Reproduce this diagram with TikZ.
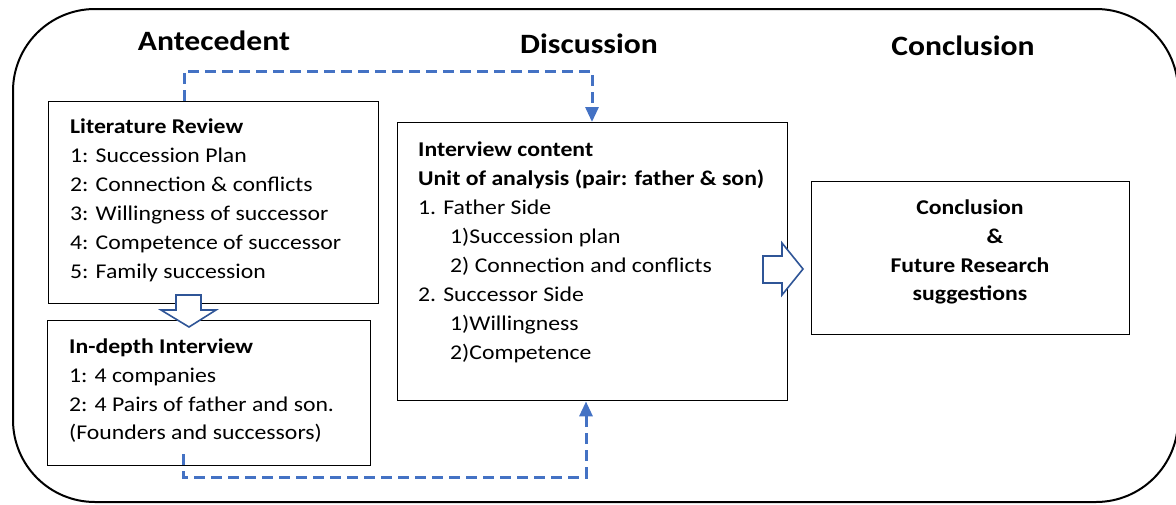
\documentclass[tikz,border=0pt]{standalone}
\usepackage{fontspec}
\setmainfont{Carlito}[FakeStretch=1.13]
\usetikzlibrary{arrows.meta}
\definecolor{dashblue}{HTML}{4472C4}
\definecolor{arrowblue}{HTML}{2F5597}
\tikzset{
  box/.style={draw, line width=1.4pt, inner sep=0pt, anchor=north west},
  txt/.style={anchor=base west, inner sep=0pt, font=\fontsize{21}{29}\selectfont},
  ctxt/.style={anchor=base, inner sep=0pt, font=\fontsize{21}{29}\selectfont\bfseries},
  head/.style={anchor=base, inner sep=0pt, font=\fontsize{28}{34}\selectfont\bfseries},
  conn/.style={draw=dashblue, line width=3pt, dash pattern=on 11pt off 6pt, -{Triangle[length=15pt,width=13pt]}},
  hollow/.style={draw=arrowblue, line width=1.6pt, fill=white, line join=miter},
}
\begin{document}
\begin{tikzpicture}[x=1pt,y=-1pt]
\useasboundingbox (0,0) rectangle (1176,504);
\node[draw, line width=2pt, rounded corners=82pt, inner sep=0pt, anchor=north west,
      minimum width=1165pt, minimum height=493pt] (frame) at (12,8) {};

% headings
\node[head] (h1) at (214,50) {Antecedent};
\node[head] (h2) at (589,53) {Discussion};
\node[head] (h3) at (963,55) {Conclusion};

% boxes
\node[box, minimum width=330pt, minimum height=202pt] (lit) at (48,101) {};
\node[box, minimum width=323pt, minimum height=145pt] (dep) at (47,320) {};
\node[box, minimum width=390pt, minimum height=278pt] (int) at (397,122) {};
\node[box, minimum width=318pt, minimum height=153pt] (con) at (811,181) {};

% literature review text
\node[txt] (l0) at (70,133) {\textbf{Literature Review}};
\node[txt] (l1) at (70,162) {1: Succession Plan};
\node[txt] (l2) at (70,191) {2: Connection \& conflicts};
\node[txt] (l3) at (70,220) {3: Willingness of successor};
\node[txt] (l4) at (70,249) {4: Competence of successor};
\node[txt] (l5) at (70,278) {5: Family succession};

% in-depth interview text
\node[txt] (d0) at (69,353) {\textbf{In-depth Interview}};
\node[txt] (d1) at (69,382) {1: 4 companies};
\node[txt] (d2) at (69,411) {2: 4 Pairs of father and son.};
\node[txt] (d3) at (69,439) {(Founders and successors)};

% interview content text
\node[txt] (i0) at (418,156) {\textbf{Interview content}};
\node[txt] (i1) at (418,185) {\textbf{Unit of analysis (pair: father \& son)}};
\node[txt] (i2) at (418,214) {1. Father Side};
\node[txt] (i3) at (450,243) {1)Succession plan};
\node[txt] (i4) at (450,272) {2) Connection and conflicts};
\node[txt] (i5) at (418,301) {2. Successor Side};
\node[txt] (i6) at (450,330) {1)Willingness};
\node[txt] (i7) at (450,359) {2)Competence};

% conclusion text
\node[ctxt] (c0) at (970,214) {Conclusion};
\node[ctxt] (c1) at (995,243) {\&};
\node[ctxt] (c2) at (970,272) {Future Research};
\node[ctxt] (c3) at (970,300) {suggestions};

% hollow block arrows
\draw[hollow] (176,295) -- (201,295) -- (201,310) -- (216,310) -- (189,327)
  -- (161,310) -- (176,310) -- cycle;
\draw[hollow] (763,256) -- (782,256) -- (782,243) -- (803,269) -- (782,295)
  -- (782,283) -- (763,283) -- cycle;

% dashed connectors
\coordinate (t1) at (184,71);
\coordinate (t2) at (592,71);
\draw[conn] (lit.north -| t1) -- (t1) -- (t2) -- (int.north -| t2);
\coordinate (b0) at (183,454);
\coordinate (b1) at (183,477);
\coordinate (b2) at (586,477);
\draw[conn] (b0) -- (b1) -- (b2) -- (int.south -| b2);
\end{tikzpicture}
\end{document}
